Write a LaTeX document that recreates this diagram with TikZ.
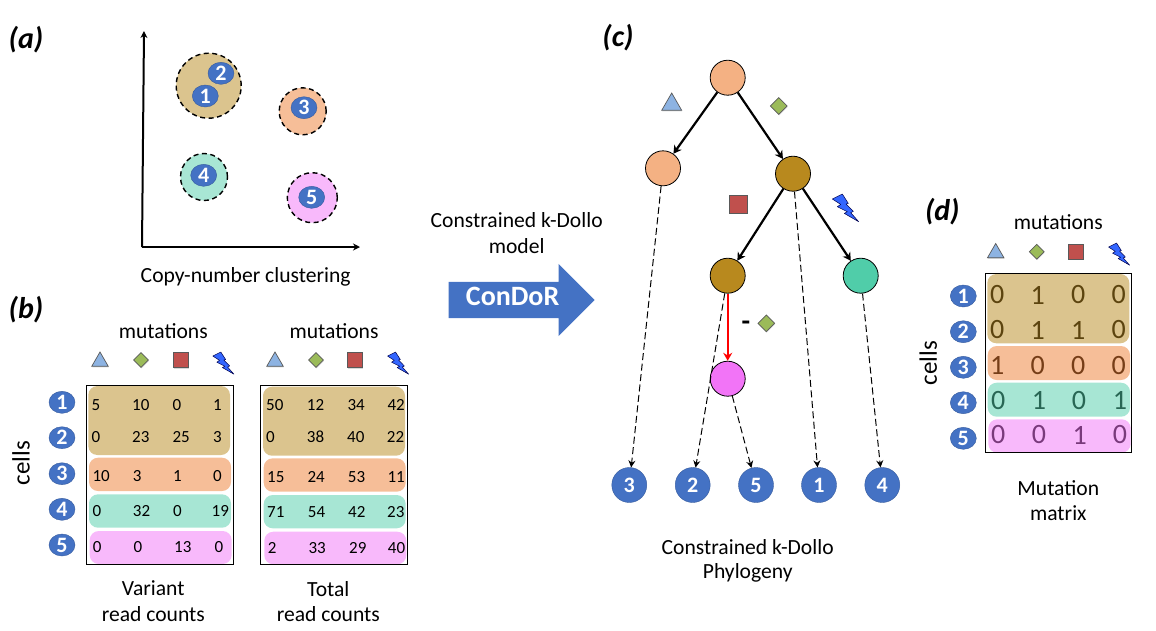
\documentclass[tikz,border=0pt]{standalone}
\usepackage{fontspec}
\setmainfont{Carlito}
\usetikzlibrary{arrows.meta,shapes.geometric,shapes.arrows,shadows}
\definecolor{goldc}{HTML}{B8891E}
\definecolor{orangec}{HTML}{ED7D31}
\definecolor{peachc}{HTML}{F4B183}
\definecolor{tealc}{HTML}{50CDA9}
\definecolor{pinkc}{HTML}{F274F7}
\definecolor{cellc}{HTML}{4472C4}
\definecolor{tric}{HTML}{8DB3E2}
\definecolor{diac}{HTML}{9BBB59}
\definecolor{sqrc}{HTML}{C0504D}
\definecolor{boltc}{HTML}{3366FF}
\newcommand{\fsize}[1]{\fontsize{#1}{#1}\selectfont}
\tikzset{
  panel/.style={font=\fsize{30}\bfseries\itshape,inner sep=0pt},
  caption/.style={font=\fsize{21.6},inner sep=0pt},
  sidelabel/.style={font=\fsize{25},inner sep=0pt,rotate=90},
  cellnum/.style={ellipse,draw=cellc!80!black,fill=cellc,text=white,font=\fsize{22}\bfseries,
    inner sep=0pt,minimum width=26pt,minimum height=22pt},
  cloudc/.style={circle,draw=black,line width=1.4pt,dash pattern=on 5pt off 3.5pt,inner sep=0pt},
  num/.style={anchor=west,font=\fsize{17},inner sep=0pt},
  bit/.style={font=\fsize{28},inner sep=0pt},
  band/.style={rounded corners=9pt,opacity=0.5},
  symb/.style={draw=black!65,line width=0.7pt,inner sep=0pt,
    drop shadow={shadow xshift=0.5pt,shadow yshift=-1pt,opacity=0.3}},
  tri/.style={symb,regular polygon,regular polygon sides=3,fill=tric,minimum size=19pt},
  dia/.style={symb,diamond,fill=diac,minimum size=15pt},
  sqr/.style={symb,rectangle,fill=sqrc,minimum size=15pt},
  boltmark/.pic={
    \draw[draw=black!70!blue,fill=boltc,line width=0.5pt,line join=round]
      (-12.7,-8.7) -- (-2.7,-13.7) -- (3.3,-4.3) -- (1,-3.7) -- (8.3,3.7) -- (5.7,5)
      -- (13.7,14) -- (-0.7,5.7) -- (2.3,4) -- (-7.7,-1) -- (-4.3,-3.3) -- cycle;
  },
  clone/.style={circle,draw=black,line width=0.8pt,inner sep=0pt,minimum size=35pt},
  leaf/.style={circle,draw=cellc!80!black,fill=cellc,text=white,font=\fsize{22}\bfseries,
    inner sep=0pt,minimum size=35pt},
  gain/.style={line width=2.2pt,-{Stealth[length=8pt,width=9pt]}},
  loss/.style={red,line width=2.2pt,-{Stealth[length=8pt,width=9pt]}},
  attach/.style={line width=1pt,dash pattern=on 7pt off 3.5pt,-{Stealth[length=7pt,width=7pt]}}
}
\begin{document}
\begin{tikzpicture}[x=1pt,y=-1pt]
  \useasboundingbox (0,0) rectangle (1156,630);
  % panel a
  \node (a) at (26,40) [panel] {(a)};
  \coordinate (orig) at (142,247);
  \coordinate (ytop) at (144,31);
  \coordinate (xend) at (360,247);
  \draw[line width=2pt,-{Stealth[length=7pt,width=7pt]}] (orig) -- (ytop);
  \draw[line width=2pt,-{Stealth[length=7pt,width=7pt]}] (orig) -- (xend);
  \node (ca1) at (208.7,85.7) [cloudc,fill=goldc!50,minimum size=65pt] {};
  \node (ca3) at (302.7,111.3) [cloudc,fill=orangec!50,minimum size=47pt] {};
  \node (ca4) at (204,177) [cloudc,fill=tealc!50,minimum size=47pt] {};
  \node (ca5) at (312.3,197.7) [cloudc,fill=pinkc!50,minimum size=50pt] {};
  \node (pa2) at (221,73.3) [cellnum] {2};
  \node (pa1) at (205.3,96) [cellnum] {1};
  \node (pa3) at (304,107.7) [cellnum] {3};
  \node (pa4) at (203.7,175.3) [cellnum] {4};
  \node (pa5) at (311.7,197.3) [cellnum] {5};
  \node (capa) at (245.7,276.7) [caption] {Copy-number clustering};
  % panel b
  \node (b) at (26,310) [panel] {(b)};
  \node (mutv) at (163.3,330.7) [caption] {mutations};
  \node (mutt) at (334,330.7) [caption] {mutations};
  \node (triv) at (100,361.5) [tri] {};
  \node (diav) at (141,360) [dia] {};
  \node (sqrv) at (180.7,360) [sqr] {};
  \pic[scale=0.8] (boltv) at (223,363) {boltmark};
  \node (trit) at (275,361.5) [tri] {};
  \node (diat) at (316,360) [dia] {};
  \node (sqrt) at (355.3,360) [sqr] {};
  \pic[scale=0.8] (boltt) at (397.7,363) {boltmark};
  \fill[band,fill=goldc] (88.3,386) rectangle (230,455);
  \fill[band,fill=orangec] (89,457.7) rectangle (231,491);
  \fill[band,fill=tealc] (89,494.3) rectangle (231,527.7);
  \fill[band,fill=pinkc] (89.7,531) rectangle (231.7,564);
  \fill[band,fill=goldc] (263,386.7) rectangle (405,455.7);
  \fill[band,fill=orangec] (263.7,458.3) rectangle (405.7,491.7);
  \fill[band,fill=tealc] (263.7,495) rectangle (405.7,528.3);
  \fill[band,fill=pinkc] (264.3,531.7) rectangle (406.3,564.3);
  \draw[line width=0.9pt] (86,385) rectangle (233,564);
  \draw[line width=0.9pt] (260.7,385.7) rectangle (407.7,564.3);
  \node (c1) at (62,402.3) [cellnum] {1};
  \node (c2) at (62,437.7) [cellnum] {2};
  \node (c3) at (62,473.7) [cellnum] {3};
  \node (c4) at (62,509.3) [cellnum] {4};
  \node (c5) at (62,545) [cellnum] {5};
  \node (cellsb) at (21,463) [sidelabel] {cells};
  \node (v11) at (91.3,404.7) [num] {5};
  \node (v12) at (132,404.7) [num] {10};
  \node (v13) at (172.3,404.7) [num] {0};
  \node (v14) at (213,404.7) [num] {1};
  \node (v21) at (91.3,436.7) [num] {0};
  \node (v22) at (132,436.7) [num] {23};
  \node (v23) at (172.3,436.7) [num] {25};
  \node (v24) at (213,436.7) [num] {3};
  \node (v31) at (92.3,475.7) [num] {10};
  \node (v32) at (132.7,475.7) [num] {3};
  \node (v33) at (173,475.7) [num] {1};
  \node (v34) at (213,475.7) [num] {0};
  \node (v41) at (92.3,510.7) [num] {0};
  \node (v42) at (132.7,510.7) [num] {32};
  \node (v43) at (173,510.7) [num] {0};
  \node (v44) at (211.5,510.7) [num] {19};
  \node (v51) at (92.7,546.7) [num] {0};
  \node (v52) at (133.3,546.7) [num] {0};
  \node (v53) at (174,546.7) [num] {13};
  \node (v54) at (214.3,546.7) [num] {0};
  \node (t11) at (266,404.7) [num] {50};
  \node (t12) at (306.7,404.7) [num] {12};
  \node (t13) at (347.3,404.7) [num] {34};
  \node (t14) at (387.3,404.7) [num] {42};
  \node (t21) at (266,436.7) [num] {0};
  \node (t22) at (306.7,436.7) [num] {38};
  \node (t23) at (347,436.7) [num] {40};
  \node (t24) at (386.7,436.7) [num] {22};
  \node (t31) at (267,476.7) [num] {15};
  \node (t32) at (307.3,476.7) [num] {24};
  \node (t33) at (347.7,476.7) [num] {53};
  \node (t34) at (387.3,476.7) [num] {11};
  \node (t41) at (267,511.7) [num] {71};
  \node (t42) at (307.7,511.7) [num] {54};
  \node (t43) at (348,511.7) [num] {42};
  \node (t44) at (387,511.7) [num] {23};
  \node (t51) at (267.7,547.7) [num] {2};
  \node (t52) at (308.3,547.7) [num] {33};
  \node (t53) at (349,547.7) [num] {29};
  \node (t54) at (387.7,547.7) [num] {40};
  \node (capv1) at (153.3,588.3) [caption] {Variant};
  \node (capv2) at (153.3,614.3) [caption] {read counts};
  \node (capt1) at (328.3,588.7) [caption] {Total};
  \node (capt2) at (328.3,614.3) [caption] {read counts};
  % big arrow
  \node (mod1) at (516.7,220) [caption] {Constrained k-Dollo};
  \node (mod2) at (516.7,246) [caption] {model};
  \node (bigarrow) at (595,300) [single arrow,anchor=tip,fill=cellc,
    inner xsep=0pt,inner ysep=9pt,text height=14pt,text depth=4pt,
    minimum height=146pt,minimum width=72pt,single arrow head extend=18pt,
    single arrow tip angle=90,font=\fsize{28}\bfseries,text=white] {ConDoR};
  % panel c
  \node (cc) at (618,38) [panel] {(c)};
  \node (root) at (727.7,77.7) [clone,fill=peachc] {};
  \node (left) at (663,168.3) [clone,fill=peachc] {};
  \node (right) at (793,173.7) [clone,fill=goldc] {};
  \node (mid) at (727.7,275.7) [clone,fill=goldc] {};
  \node (teal) at (860.7,275.7) [clone,fill=tealc] {};
  \node (pink) at (727.7,378.7) [clone,fill=pinkc] {};
  \node (l3) at (629.3,485) [leaf] {3};
  \node (l2) at (692.7,485) [leaf] {2};
  \node (l5) at (756,485) [leaf] {5};
  \node (l1) at (819,485) [leaf] {1};
  \node (l4) at (882.3,485) [leaf] {4};
  \draw[gain] (root) -- (left);
  \draw[gain] (root) -- (right);
  \draw[gain] (right) -- (mid);
  \draw[gain] (right) -- (teal);
  \draw[loss] (mid) -- (pink);
  \draw[attach] (left) -- (l3);
  \draw[attach] (mid) -- (l2);
  \draw[attach] (pink) -- (l5);
  \draw[attach] (right) -- (l1);
  \draw[attach] (teal) -- (l4);
  \node (trie) at (671.7,104.5) [tri,minimum size=23pt] {};
  \node (diae) at (778.7,106) [dia,minimum size=17pt] {};
  \node (sqre) at (738,204.3) [sqr,minimum size=18pt] {};
  \pic (bolte) at (845,207.7) {boltmark};
  \node (minus) at (746,326) [font=\fsize{28}\bfseries,inner sep=0pt] {-};
  \node (dial) at (766.3,323.3) [dia,minimum size=17pt] {};
  \node (capc1) at (747.7,547.3) [caption] {Constrained k-Dollo};
  \node (capc2) at (747.7,572.7) [caption] {Phylogeny};
  % panel d
  \node (d) at (942.3,211.7) [panel] {(d)};
  \node (mutd) at (1058.3,222.3) [caption] {mutations};
  \node (trid) at (995.7,253) [tri] {};
  \node (diad) at (1036.7,251.7) [dia] {};
  \node (sqrd) at (1076,251.7) [sqr] {};
  \pic[scale=0.8] (boltd) at (1118.7,254) {boltmark};
  \node (d1) at (963.3,296) [cellnum] {1};
  \node (d2) at (963.3,331.7) [cellnum] {2};
  \node (d3) at (963.3,367.3) [cellnum] {3};
  \node (d4) at (963.3,402.7) [cellnum] {4};
  \node (d5) at (963.3,438.3) [cellnum] {5};
  \node (cellsd) at (928.3,363.3) [sidelabel] {cells};
  \node (m11) at (997.3,295) [bit] {0};
  \node (m12) at (1037.7,295) [bit] {1};
  \node (m13) at (1078.3,295) [bit] {0};
  \node (m14) at (1118.7,295) [bit] {0};
  \node (m21) at (997.3,330) [bit] {0};
  \node (m22) at (1037.7,330) [bit] {1};
  \node (m23) at (1078.3,330) [bit] {1};
  \node (m24) at (1118.7,330) [bit] {0};
  \node (m31) at (997.3,365.7) [bit] {1};
  \node (m32) at (1037.7,365.7) [bit] {0};
  \node (m33) at (1078.3,365.7) [bit] {0};
  \node (m34) at (1118.7,365.7) [bit] {0};
  \node (m41) at (998.3,400.7) [bit] {0};
  \node (m42) at (1039,400.7) [bit] {1};
  \node (m43) at (1079,400.7) [bit] {0};
  \node (m44) at (1120,400.7) [bit] {1};
  \node (m51) at (998.3,435) [bit] {0};
  \node (m52) at (1039,435) [bit] {0};
  \node (m53) at (1079.7,435) [bit] {1};
  \node (m54) at (1120,435) [bit] {0};
  \fill[band,fill=goldc] (987.3,274) rectangle (1129.3,343.3);
  \fill[band,fill=orangec] (987.7,346) rectangle (1130,380);
  \fill[band,fill=tealc] (987.7,382.7) rectangle (1130,416.7);
  \fill[band,fill=pinkc] (988.3,419.3) rectangle (1130.7,452.7);
  \draw[line width=0.9pt] (985,273.7) rectangle (1131.7,452.3);
  \node (capd1) at (1058.3,487.7) [caption] {Mutation};
  \node (capd2) at (1058.3,512.7) [caption] {matrix};
\end{tikzpicture}
\end{document}
